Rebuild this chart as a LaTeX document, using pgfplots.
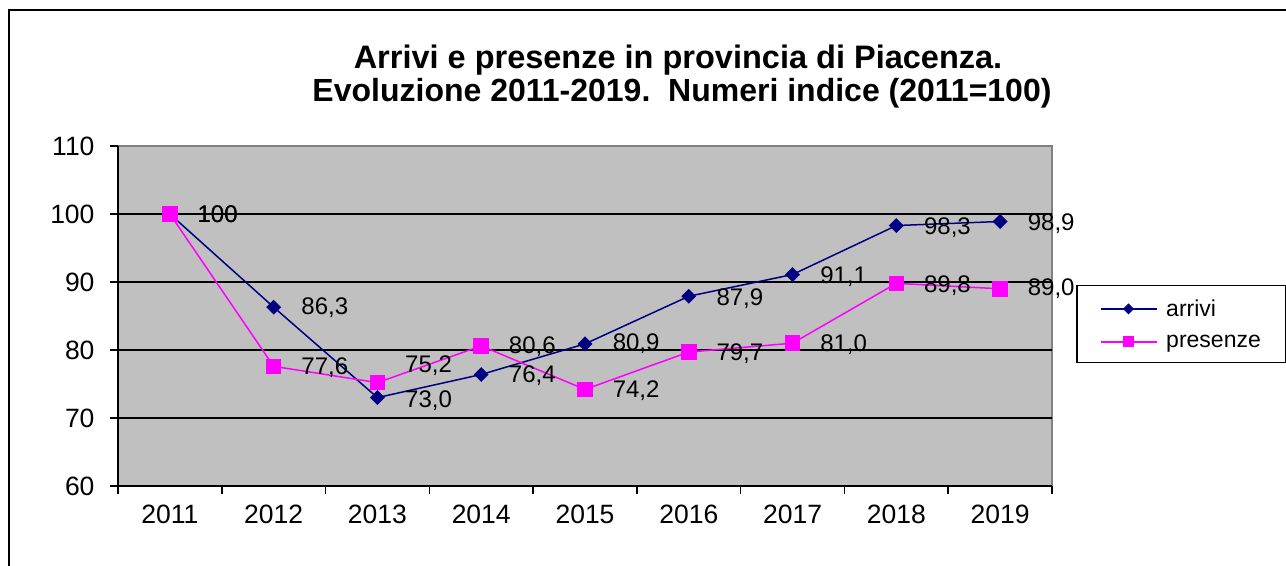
\documentclass[border=0pt]{standalone}
\usepackage{fontspec}
\setmainfont{Liberation Sans}
\usepackage{pgfplots}
\pgfplotsset{compat=1.18}
\definecolor{navyc}{RGB}{0,0,128}
\definecolor{magc}{RGB}{255,0,255}
\definecolor{plotbg}{RGB}{192,192,192}
\definecolor{bordergray}{RGB}{128,128,128}

\pgfplotstableread{
x y lab dy
0 100.0 100 0
1 86.3 86,3 0
2 73.0 73,0 -3
3 76.4 76,4 -1
4 80.9 80,9 0
5 87.9 87,9 -2
6 91.1 91,1 -2
7 98.3 98,3 -2
8 98.9 98,9 -2
}\arrivi

\pgfplotstableread{
x y lab dy
0 100.0 100 0
1 77.6 77,6 -1
2 75.2 75,2 17
3 80.6 80,6 -1
4 74.2 74,2 -1
5 79.7 79,7 -2
6 81.0 81,0 -1
7 89.8 89,8 -2
8 89.0 89,0 0
}\presenze

\begin{document}
\begin{tikzpicture}
\path[use as bounding box] (0,0) rectangle (1286bp,566bp);
\draw[line width=2bp] (9bp,-5bp) -- (9bp,556bp) -- (1295bp,556bp);
\node[font=\bfseries\fontsize{32.5bp}{36bp}\selectfont, anchor=base, inner sep=0pt] at (678bp,497bp) {Arrivi e presenze in provincia di Piacenza.};
\node[font=\bfseries\fontsize{32bp}{36bp}\selectfont, anchor=base, inner sep=0pt] at (682bp,464bp) {Evoluzione 2011-2019.\ \ Numeri indice (2011=100)};
\begin{axis}[
  at={(118bp,80bp)}, anchor=south west,
  scale only axis, width=934bp, height=340bp,
  xmin=-0.5, xmax=8.5, ymin=60, ymax=110,
  clip=false,
  axis background/.style={fill=plotbg, draw=bordergray, line width=1.5bp},
  axis lines*=left,
  axis line style={black, line width=1.5bp},
  ytick={60,70,...,110},
  xtick={-0.5,0.5,...,8.5},
  xticklabels={2011,2012,2013,2014,2015,2016,2017,2018,2019,{}},
  xticklabel style={xshift=51.9bp, yshift=-7bp},
  yticklabel style={xshift=-12bp},
  tick align=outside,
  major tick length=8bp,
  tick style={black, line width=1.5bp},
  extra y ticks={70,80,90,100},
  extra y tick labels={},
  extra y tick style={grid=major, major grid style={black, line width=1.5bp}, major tick length=0pt},
  ticklabel style={font=\fontsize{26.5bp}{30bp}\selectfont},
  /pgf/number format/assume math mode=true,
  legend style={at={(1.0257,0.5912)}, anchor=north west, draw=black, line width=1.5bp, fill=white,
    font=\fontsize{23bp}{26bp}\selectfont, inner xsep=23bp, inner ysep=12bp, row sep=13bp, column sep=7bp},
  legend cell align=left,
  legend image code/.code={\draw[mark repeat=2,mark phase=2,#1, every mark/.append style={scale=0.7}] plot coordinates {(0bp,0bp) (28bp,0bp) (56bp,0bp)};},
  nodes near coords={\pgfplotspointmeta},
  point meta=explicit symbolic,
  visualization depends on={\thisrow{dy} \as \dyval},
  every node near coord/.append style={anchor=west, xshift=27bp, yshift=\dyval bp, inner sep=0pt, text=black, font=\fontsize{24bp}{26bp}\selectfont},
]
\addplot[navyc, line width=1.5bp, mark=square*, mark size=4.5bp, mark options={rotate=45, fill=navyc, draw=navyc}] table[x=x, y=y, meta=lab] {\arrivi};
\addlegendentry{arrivi}
\addplot[magc, line width=1.5bp, mark=square*, mark size=7bp, mark options={fill=magc, draw=magc}] table[x=x, y=y, meta=lab] {\presenze};
\addlegendentry{presenze}
\end{axis}
\end{tikzpicture}
\end{document}
